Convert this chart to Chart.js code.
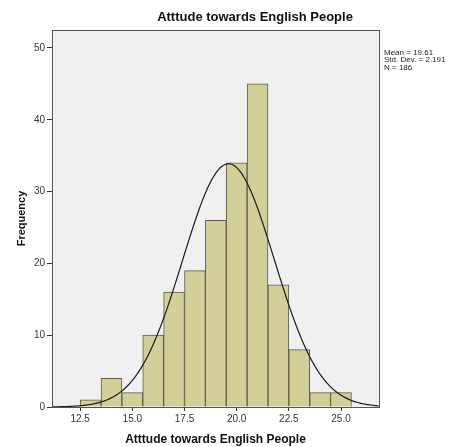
<!DOCTYPE html>
<html>
<head>
<meta charset="utf-8">
<script src="https://cdn.jsdelivr.net/npm/chart.js@4/dist/chart.umd.min.js"></script>
<style>
  html, body { margin: 0; padding: 0; background: #ffffff; }
  #wrap { width: 449px; height: 447px; position: relative; }
</style>
</head>
<body>
<div id="wrap"><canvas id="c" width="449" height="447"></canvas></div>
<script>
// Histogram bins (bin centres, width 1) and their counts
const binCenters = [13, 14, 15, 16, 17, 18, 19, 20, 21, 22, 23, 24, 25];
const frequencies = [1, 4, 2, 10, 16, 19, 26, 34, 45, 17, 8, 2, 2];

// Tick labels
const xTicks = [12.5, 15.0, 17.5, 20.0, 22.5, 25.0];
const yTicks = [0, 10, 20, 30, 40, 50];

// Summary statistics shown beside the plot; the normal curve uses them
const meanValue = 19.61;
const stdDev = 2.191;
const nCases = 186;
const binWidth = 1;

const xMin = 11.15, xMax = 26.82, yMax = 52.5;

const titleText = 'Atttude towards English People';
const statsLines = ['Mean = ' + meanValue.toFixed(2), 'Std. Dev. = ' + stdDev.toFixed(3), 'N = ' + nCases];

const barData = binCenters.map((x, i) => ({ x: x, y: frequencies[i] }));

// Normal curve scaled to the histogram's counts
const curveData = [];
for (let x = xMin; x <= xMax + 1e-9; x += 0.05) {
  const z = (x - meanValue) / stdDev;
  const y = nCases * binWidth / (stdDev * Math.sqrt(2 * Math.PI)) * Math.exp(-0.5 * z * z);
  curveData.push({ x: x, y: y });
}

const frame = {
  id: 'frame',
  beforeDatasetsDraw(chart) {
    const { ctx, chartArea: a } = chart;
    ctx.save();
    ctx.fillStyle = '#f0f0f0';
    ctx.fillRect(a.left, a.top, a.right - a.left, a.bottom - a.top);
    ctx.restore();
  },
  afterDraw(chart) {
    const { ctx, chartArea: a } = chart;
    ctx.save();
    ctx.strokeStyle = '#555555';
    ctx.lineWidth = 1;
    ctx.strokeRect(Math.round(a.left) + 0.5, Math.round(a.top) + 0.5, Math.round(a.right - a.left), Math.round(a.bottom - a.top));
    // title
    ctx.fillStyle = '#111111';
    ctx.font = 'bold 13px "Liberation Sans", Arial, sans-serif';
    ctx.textAlign = 'center';
    ctx.textBaseline = 'middle';
    ctx.fillText(titleText, 255, 17);
    // statistics block
    ctx.font = '8px "Liberation Sans", Arial, sans-serif';
    ctx.textAlign = 'left';
    ctx.textBaseline = 'alphabetic';
    ctx.fillStyle = '#222222';
    statsLines.forEach((t, i) => ctx.fillText(t, 384, 55 + i * 7.3));
    ctx.restore();
  }
};

new Chart(document.getElementById('c'), {
  type: 'bar',
  data: {
    datasets: [
      {
        type: 'line',
        data: curveData,
        borderColor: '#1a1a1a',
        borderWidth: 1.2,
        pointRadius: 0,
        tension: 0,
        fill: false,
        order: 0
      },
      {
        type: 'bar',
        data: barData,
        backgroundColor: '#d3cf98',
        borderColor: '#5c5c50',
        borderWidth: 1,
        barPercentage: 1,
        categoryPercentage: 1,
        grouped: false,
        order: 1
      }
    ]
  },
  options: {
    responsive: false,
    animation: false,
    devicePixelRatio: 1,
    layout: { padding: { top: 30, right: 70, bottom: 0, left: 15 } },
    plugins: {
      legend: { display: false },
      tooltip: { enabled: false },
      title: { display: false }
    },
    scales: {
      x: {
        type: 'linear',
        offset: false,
        min: xMin,
        max: xMax,
        afterBuildTicks: s => { s.ticks = xTicks.map(v => ({ value: v })); },
        afterFit: s => { s.height = 40; },
        ticks: {
          callback: v => Number(v).toFixed(1),
          font: { size: 10, family: '"Liberation Sans", Arial, sans-serif' },
          color: '#333333',
          padding: 2,
          maxRotation: 0,
          autoSkip: false
        },
        grid: { offset: false, drawOnChartArea: false, drawTicks: true, tickLength: 4, color: '#333333' },
        border: { display: true, color: '#333333' },
        title: {
          display: true,
          text: titleText,
          font: { size: 12, weight: 'bold', family: '"Liberation Sans", Arial, sans-serif' },
          color: '#111111',
          padding: { top: 5, bottom: 0 }
        }
      },
      y: {
        type: 'linear',
        min: 0,
        max: yMax,
        afterBuildTicks: s => { s.ticks = yTicks.map(v => ({ value: v })); },
        afterFit: s => { s.width = 37; },
        ticks: {
          font: { size: 10, family: '"Liberation Sans", Arial, sans-serif' },
          color: '#333333',
          padding: 2
        },
        grid: { drawOnChartArea: false, drawTicks: true, tickLength: 5, color: '#333333' },
        border: { display: true, color: '#333333' },
        title: {
          display: true,
          text: 'Frequency',
          font: { size: 11, weight: 'bold', family: '"Liberation Sans", Arial, sans-serif' },
          color: '#111111',
          padding: { top: 0, bottom: 4 }
        }
      }
    }
  },
  plugins: [frame]
});
</script>
</body>
</html>
